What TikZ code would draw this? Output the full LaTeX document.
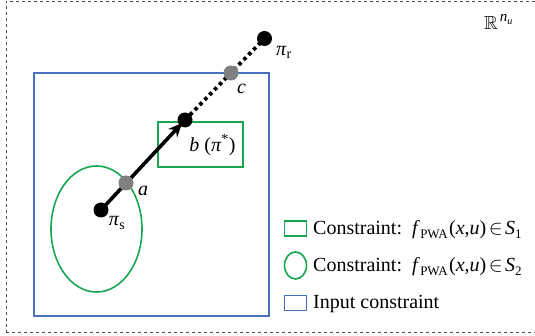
\documentclass[tikz,border=0pt]{standalone}
\usepackage{fontspec}
\setmainfont{Liberation Serif}
\usepackage{amssymb}
\usetikzlibrary{arrows.meta,shapes.geometric}
\definecolor{myblue}{RGB}{72,112,190}
\definecolor{mygreen}{RGB}{24,166,80}
\definecolor{mygrey}{RGB}{128,128,128}
\newcommand{\fpwa}[1]{\textit{f}\kern0.3pt{\fontsize{13}{15}\selectfont\raisebox{-4pt}{PWA}}\kern1.5pt(\textit{x},\textit{u})\kern2.5pt$\in$\kern2.5pt\textit{S}{\fontsize{13}{15}\selectfont\raisebox{-4pt}{#1}}}
\begin{document}
\begin{tikzpicture}[x=1pt,y=-1pt,
  bigtxt/.style={font=\fontsize{20}{24}\selectfont, inner sep=0pt},
  blackdot/.style={circle, fill=black, minimum size=15pt, inner sep=0pt},
  greydot/.style={circle, fill=mygrey, minimum size=15pt, inner sep=0pt},
  bluebox/.style={draw=myblue, line width=1.6pt, inner sep=0pt},
  greenbox/.style={draw=mygreen, line width=1.6pt, inner sep=0pt},
  greenell/.style={ellipse, draw=mygreen, line width=1.6pt, inner sep=0pt},
  legtxt/.style={font=\fontsize{20}{24}\selectfont, anchor=west, inner sep=0pt}]
\useasboundingbox (0,0) rectangle (535,336);
\node[draw=black!70, dashed, line width=0.6pt, minimum width=531pt, minimum height=331pt, inner sep=0pt, anchor=north west] (frame) at (5.5,1) {};
% regions
\node[bluebox, minimum width=235pt, minimum height=243pt] (input) at (151.5,194.5) {};
\node[greenbox, minimum width=85pt, minimum height=45pt] (s1) at (200.5,144.5) {};
\node[greenell, minimum width=91pt, minimum height=126pt] (s2) at (96.5,229) {};
% point coordinates
\coordinate (pps) at (101,210);
\coordinate (pa) at (126,183);
\coordinate (pb) at (185,120);
\coordinate (pc) at (231,73);
\coordinate (ppr) at (264.5,38.5);
% connectors
\draw[line width=3.8pt, dash pattern=on 3.5pt off 3.5pt] (pb) -- (ppr);
\draw[line width=3.6pt, -{Stealth[length=14pt,width=12pt]}, shorten >=4pt] (pps) -- (pb);
% dots
\node[blackdot] (ps) at (pps) {};
\node[greydot] (a) at (pa) {};
\node[blackdot] (b) at (pb) {};
\node[greydot] (c) at (pc) {};
\node[blackdot] (pr) at (ppr) {};
% labels
\node[bigtxt] (lps) at (117,223) {\textit{π}\textsubscript{s}};
\node[bigtxt] (la) at (143,191) {\textit{a}};
\node[bigtxt] (lb) at (212.5,145) {\textit{b} (\textit{π}\textsuperscript{*})};
\node[bigtxt] (lc) at (241.5,89) {\textit{c}};
\node[bigtxt] (lpr) at (284,52) {\textit{π}\textsubscript{r}};
\node[font=\fontsize{19}{22}\selectfont, inner sep=0pt, anchor=base west] (space) at (484,30) {$\mathbb{R}$\kern2pt\raisebox{8pt}{\fontsize{15}{17}\selectfont\textit{n}\raisebox{-3pt}{\fontsize{10}{11}\selectfont\textit{u}}}};
% legend
\node[greenbox, minimum width=22pt, minimum height=15pt] (k1) at (295.5,228.5) {};
\node[legtxt] (t1) at (313,230) {Constraint:\ \ \fpwa{1}};
\node[greenell, minimum width=22pt, minimum height=27pt] (k2) at (295.5,265.5) {};
\node[legtxt] (t2) at (313,267) {Constraint:\ \ \fpwa{2}};
\node[bluebox, minimum width=22pt, minimum height=15pt] (k3) at (295.5,303) {};
\node[legtxt] (t3) at (313,304) {Input constraint};
\end{tikzpicture}
\end{document}
